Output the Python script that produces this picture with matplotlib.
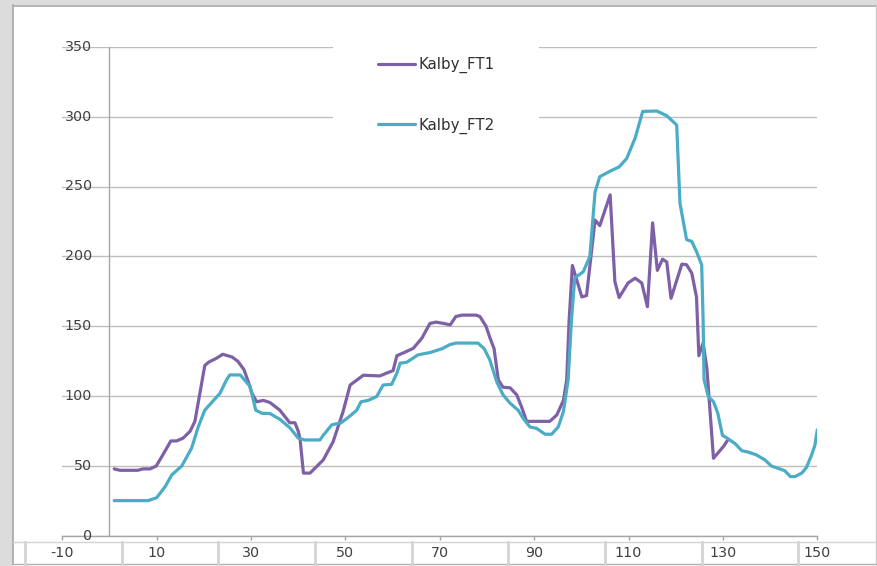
import matplotlib
matplotlib.use("Agg")
import matplotlib.pyplot as plt
from matplotlib.patches import Rectangle
from matplotlib.lines import Line2D
import numpy as np

# Series values
ft1_x = [1, 2.2, 6, 7.1, 8.6, 9.9, 11.3, 13, 14.2, 15.6, 17.1, 18.1, 20.2, 21.1, 22.6, 24,
         26, 27.2, 28.5, 29.4, 30.2, 31.2, 32.6, 34, 36.1, 38.2, 39.3, 40, 40.4, 41.1, 42.5,
         45.3, 47.4, 49.5, 51, 53.8, 57.3, 58.7, 60.1, 60.9, 62.3, 64.4, 66.2, 67.9, 69.2,
         70.9, 72.2, 73.4, 74.7, 77.7, 78.5, 79.8, 80.6, 81.5, 82.4, 83.4, 84.9, 86.3, 87.3,
         88.4, 93.3, 94.8, 96.2, 96.9, 97.4, 98.1, 100.1, 101.1, 102.9, 103.9, 106.1, 107.1,
         108, 109.9, 111.4, 112.8, 114, 115.1, 116.1, 117.2, 118.1, 119, 121.3, 122.3, 123.4,
         124.4, 124.9, 125.8, 126.6, 128, 130.1, 131.1]
ft1_y = [48, 47, 47, 48, 48, 50, 58, 68, 68, 70, 75, 82, 122, 124.5, 127, 130,
         128, 125, 119, 110.5, 102, 96, 97, 95.5, 90, 81, 81, 75, 69, 45, 45,
         54.4, 67.5, 89, 108, 115, 114.5, 116.5, 118.3, 129, 131, 134.3, 141.5, 152, 153,
         152, 151, 157, 158, 158, 157, 150, 142, 134, 111.7, 106.4, 106, 101, 92.6,
         82, 82, 86.6, 97, 112, 154, 193.5, 171, 172, 226, 222, 244, 182,
         170.6, 181, 184.4, 181, 164, 224, 190, 198, 196, 170, 194.5, 194, 188,
         171, 129, 138, 120, 55.6, 64, 69]

ft2_x = [1, 8.2, 10, 11.8, 13.2, 15.3, 17.4, 18.8, 20.2, 22, 23.4, 24.8, 25.5, 27.7, 29.8,
         31, 32.3, 34, 36.1, 38.2, 40, 41.4, 44.6, 45.3, 47.1, 49.1, 50.8, 52.4, 53.3, 54.8,
         56.6, 58, 59.8, 60.9, 61.6, 63, 65.4, 67.9, 70.5, 72.2, 73.4, 78.1, 79.4, 80.6,
         82.1, 83.4, 84.9, 86.6, 87.7, 89.1, 90.5, 92.3, 93.7, 95.1, 96.2, 97.2, 97.9, 98.6,
         100.4, 101.8, 102.9, 103.9, 106.1, 108, 109.6, 111.4, 113, 116, 118.1, 120.2, 120.9,
         122.3, 123.4, 124.4, 125.5, 125.8, 126, 126.9, 128, 128.9, 129.9, 130.9, 132.6, 134,
         135.4, 137.1, 138.9, 140.3, 141.7, 143.1, 144.3, 145.3, 146.7, 147.7, 148.8, 149.5,
         150]
ft2_y = [25.3, 25.3, 27.4, 35.3, 43.7, 50, 62.8, 78, 90, 96.8, 102, 111.7, 115.2, 115.2, 107,
         90, 87.8, 87.6, 83.5, 77.5, 70, 68.7, 68.7, 72, 79.5, 81, 85.4, 90, 96, 97,
         99.7, 108, 108.5, 116.5, 123.6, 124.3, 129.6, 131.2, 134, 137, 138, 138, 134, 126,
         110, 101, 95, 90, 84, 78, 77, 72.8, 72.8, 78, 89, 111.7, 154.6, 184.6,
         189, 200, 246, 257, 261, 264, 270, 284.7, 303.7, 304, 300.6, 294, 238,
         212, 210.7, 203.5, 194, 154.6, 112, 99.7, 96, 88, 72, 70, 66, 61,
         60, 58, 54.4, 50, 48.4, 46.7, 42.5, 42.5, 45, 49, 58, 65,
         76]

series_names = ["Kalby_FT1", "Kalby_FT2"]
series_colors = ["#7E60A6", "#4BACC6"]
x_ticks = [-10, 10, 30, 50, 70, 90, 110, 130, 150]
y_ticks = [0, 50, 100, 150, 200, 250, 300, 350]

W, H = 878, 566
fig = plt.figure(figsize=(W / 100, H / 100), dpi=100)
fig.patch.set_facecolor("white")


def fx(px):
    return px / W


def fy(py):
    return 1 - py / H


# window chrome around the chart area
fig.patches.append(Rectangle((0, 0), fx(13), 1, transform=fig.transFigure,
                             facecolor="#DCDCDC", edgecolor="none", zorder=0))
fig.patches.append(Rectangle((0, fy(5)), 1, 1 - fy(5), transform=fig.transFigure,
                             facecolor="#DCDCDC", edgecolor="none", zorder=0))
border = "#A8A8A8"
fig.add_artist(Line2D([fx(13.5), fx(13.5)], [fy(5), fy(564)], color=border, lw=1.2))
fig.add_artist(Line2D([fx(13.5), fx(878)], [fy(5.5), fy(5.5)], color=border, lw=1.2))
fig.add_artist(Line2D([fx(876.5), fx(876.5)], [fy(5), fy(564)], color="#C8C8C8", lw=1))

# category cell row below the axis
cell = "#D4D4D4"
fig.add_artist(Line2D([fx(13.5), fx(878)], [fy(541.7), fy(541.7)], color=cell, lw=1))
fig.add_artist(Line2D([fx(13.5), fx(878)], [fy(563.5), fy(563.5)], color="#B0B0B0", lw=1))
for px in np.arange(25, 878, 96.67):
    fig.add_artist(Line2D([fx(px), fx(px)], [fy(541.7), fy(566)], color=cell, lw=2))

ax = fig.add_axes([fx(62.3), fy(536), fx(817.3) - fx(62.3), fy(46.7) - fy(536)])
ax.set_facecolor("none")
ax.set_xlim(-10, 150)
ax.set_ylim(0, 350)
for side in ["top", "right", "left"]:
    ax.spines[side].set_visible(False)
ax.spines["bottom"].set_color("#A6A6A6")
ax.spines["bottom"].set_linewidth(1)

ax.set_yticks(y_ticks)
ax.yaxis.grid(True, color="#BEBEBE", lw=1)
ax.tick_params(axis="y", length=0, labelleft=False)
ax.set_axisbelow(True)

ax.set_xticks(x_ticks)
ax.set_xticklabels([str(v) for v in x_ticks])
ax.tick_params(axis="x", direction="out", length=3, width=1, color="#A6A6A6",
               pad=4.5, labelsize=10.3, labelcolor="#404040")

# value labels sit just right of the axis start
for v in y_ticks:
    ax.text(0.0393, v, str(v), transform=ax.get_yaxis_transform(), ha="right",
            va="center", fontsize=10.3, color="#404040")

ax.axvline(0, color="#A6A6A6", lw=1, zorder=1)

ax.plot(ft1_x, ft1_y, color=series_colors[0], lw=2.3, label=series_names[0],
        solid_joinstyle="round", solid_capstyle="round", zorder=3)
ax.plot(ft2_x, ft2_y, color=series_colors[1], lw=2.3, label=series_names[1],
        solid_joinstyle="round", solid_capstyle="round", zorder=4)

leg = ax.legend(loc="upper left", bbox_to_anchor=(fx(333), fy(12)),
                bbox_transform=fig.transFigure, frameon=True, facecolor="white",
                edgecolor="none", framealpha=1, fancybox=False, fontsize=10.8,
                handlelength=2.47, handletextpad=0.2, labelspacing=2.95,
                borderpad=3.0, borderaxespad=0)
for t in leg.get_texts():
    t.set_color("#303030")

fig.savefig("out.png", dpi=100)
